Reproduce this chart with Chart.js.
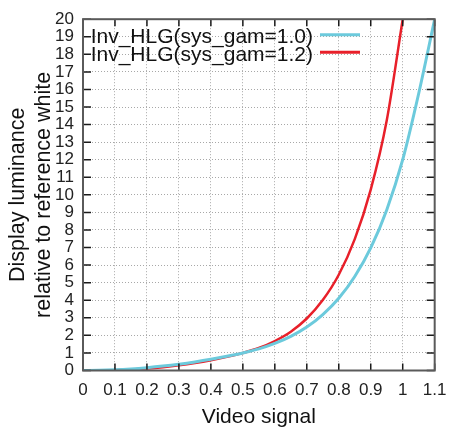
<!DOCTYPE html>
<html>
<head>
<meta charset="utf-8">
<script src="https://cdn.jsdelivr.net/npm/chart.js@4.4.1/dist/chart.umd.min.js"></script>
<style>
  html, body { margin: 0; padding: 0; background: #fff; }
  canvas { display: block; }
</style>
</head>
<body>
<canvas id="chart" width="456" height="430"></canvas>
<script>
// values
const signal = [0, 0.05, 0.1, 0.15, 0.2, 0.25, 0.3, 0.35, 0.4, 0.45, 0.5, 0.55,
                0.6, 0.65, 0.7, 0.75, 0.8, 0.85, 0.9, 0.95, 1.0, 1.05, 1.1];
const gam10 = [0, 0.01, 0.04, 0.09, 0.16, 0.25, 0.36, 0.49, 0.64, 0.81, 1.0, 1.23,
               1.54, 1.94, 2.47, 3.18, 4.11, 5.35, 6.98, 9.14, 12.0, 15.77, 20];
const gam12 = [0, 0.004, 0.021, 0.056, 0.111, 0.189, 0.293, 0.425, 0.585, 0.776, 1.0, 1.28,
               1.68, 2.21, 2.96, 4.01, 5.45, 7.48, 10.3, 14.23, 20, null, null];

const xTicks = [0, 0.1, 0.2, 0.3, 0.4, 0.5, 0.6, 0.7, 0.8, 0.9, 1, 1.1];
const yTicks = [0, 1, 2, 3, 4, 5, 6, 7, 8, 9, 10, 11, 12, 13, 14, 15, 16, 17, 18, 19, 20];

const seriesNames = ['Inv_HLG(sys_gam=1.0)', 'Inv_HLG(sys_gam=1.2)'];
const seriesColors = ['#6ccadc', '#e8202a'];

const FONT = '"Liberation Sans", Arial, sans-serif';
Chart.defaults.font.family = FONT;

const toPoints = ys => signal.map((s, i) => ({x: s, y: ys[i]}));

// gnuplot style frame: box border, inward ticks on all four sides, key in the top left
const framePlugin = {
  id: 'frame',
  afterDatasetsDraw(chart) {
    const {ctx, chartArea: a, scales: {x, y}} = chart;
    ctx.save();
    ctx.strokeStyle = '#1a1a1a';
    ctx.lineWidth = 1.5;
    ctx.beginPath();
    xTicks.forEach(v => {
      const px = x.getPixelForValue(v);
      ctx.moveTo(px, a.bottom); ctx.lineTo(px, a.bottom - 7);
      ctx.moveTo(px, a.top); ctx.lineTo(px, a.top + 7);
    });
    yTicks.forEach(v => {
      const py = y.getPixelForValue(v);
      ctx.moveTo(a.left, py); ctx.lineTo(a.left + 8, py);
      ctx.moveTo(a.right, py); ctx.lineTo(a.right - 8, py);
    });
    ctx.stroke();

    ctx.strokeStyle = '#5a5a5a';
    ctx.lineWidth = 2;
    ctx.strokeRect(a.left, a.top, a.right - a.left, a.bottom - a.top);

    // key
    ctx.font = '21px ' + FONT;
    ctx.textAlign = 'right';
    ctx.textBaseline = 'alphabetic';
    seriesNames.forEach((name, i) => {
      ctx.fillStyle = '#111';
      ctx.fillText(name, a.left + 230, a.top + 23.5 + i * 18.5);
      ctx.strokeStyle = seriesColors[i];
      ctx.lineWidth = 3;
      ctx.beginPath();
      ctx.moveTo(a.left + 237, a.top + 15.5 + i * 17.5);
      ctx.lineTo(a.left + 277, a.top + 15.5 + i * 17.5);
      ctx.stroke();
    });
    ctx.restore();
  }
};

new Chart(document.getElementById('chart'), {
  type: 'line',
  data: {
    datasets: [
      {
        label: seriesNames[0],
        data: toPoints(gam10),
        borderColor: seriesColors[0],
        borderWidth: 3,
        pointRadius: 0,
        cubicInterpolationMode: 'monotone'
      },
      {
        label: seriesNames[1],
        data: toPoints(gam12),
        borderColor: seriesColors[1],
        borderWidth: 2.5,
        pointRadius: 0,
        cubicInterpolationMode: 'monotone',
        spanGaps: false
      }
    ]
  },
  options: {
    responsive: false,
    animation: false,
    layout: { padding: { top: 14, right: 15, left: 0, bottom: 0 } },
    plugins: {
      legend: { display: false },
      tooltip: { enabled: false }
    },
    scales: {
      x: {
        type: 'linear',
        min: 0,
        max: 1.1,
        afterBuildTicks: s => { s.ticks = xTicks.map(v => ({value: v})); },
        afterFit: s => { s.height = 59.5; },
        grid: { color: '#a8a8a8', lineWidth: 1, drawTicks: false },
        border: { display: false, dash: [1, 2] },
        ticks: {
          padding: 9.5,
          color: '#222',
          font: { size: 17 },
          maxRotation: 0,
          autoSkip: false,
          callback: v => String(Math.round(v * 10) / 10)
        },
        title: {
          display: true,
          text: 'Video signal',
          color: '#111',
          font: { size: 21, lineHeight: 1.2 },
          padding: { top: 0, bottom: 0 }
        }
      },
      y: {
        type: 'linear',
        min: 0,
        max: 20,
        afterBuildTicks: s => { s.ticks = yTicks.map(v => ({value: v})); },
        afterFit: s => { s.width = 83; },
        grid: { color: '#a8a8a8', lineWidth: 1, drawTicks: false },
        border: { display: false, dash: [1, 2] },
        ticks: {
          padding: 9,
          color: '#222',
          font: { size: 17 },
          autoSkip: false
        },
        title: {
          display: true,
          text: ['Display luminance', 'relative to reference white'],
          color: '#111',
          font: { size: 21.5, lineHeight: 1.22 },
          padding: { top: 5, bottom: 0 }
        }
      }
    }
  },
  plugins: [framePlugin]
});
</script>
</body>
</html>
